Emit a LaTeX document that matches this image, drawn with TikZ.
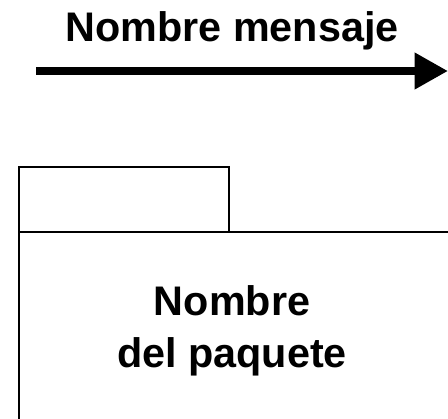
\documentclass[tikz,border=0pt]{standalone}
\usepackage{fontspec}
\setmainfont{Liberation Sans}
\usetikzlibrary{arrows.meta}
\begin{document}
\begin{tikzpicture}[x=0.75pt,y=-0.75pt,line width=1.5pt]
    \useasboundingbox (0,0) rectangle (448,418);
    \clip (0,0) rectangle (448,418);
    % Nodes
    \node at (232, 31) (msg) [font=\fontsize{31}{36}\selectfont\bfseries] {Nombre mensaje};
    \coordinate (msgstart) at (36, 71);
    \coordinate (msgend) at (448, 71);
    \node at (18, 166) (tab) [draw, rectangle, anchor=north west, inner sep=0pt, minimum width=157.5pt, minimum height=48.75pt] {};
    \node at (18, 231) (body) [draw, rectangle, anchor=north west, inner sep=0pt, minimum width=330pt, minimum height=150pt] {};
    \node at (232, 331) (name) [align=center, font=\fontsize{31}{39}\selectfont\bfseries] {Nombre\\del paquete};
    
    % Arrows
    \draw[line width=6pt, -{Triangle[length=25pt, width=26pt]}] (msgstart) -- (msgend);
\end{tikzpicture}
\end{document}
